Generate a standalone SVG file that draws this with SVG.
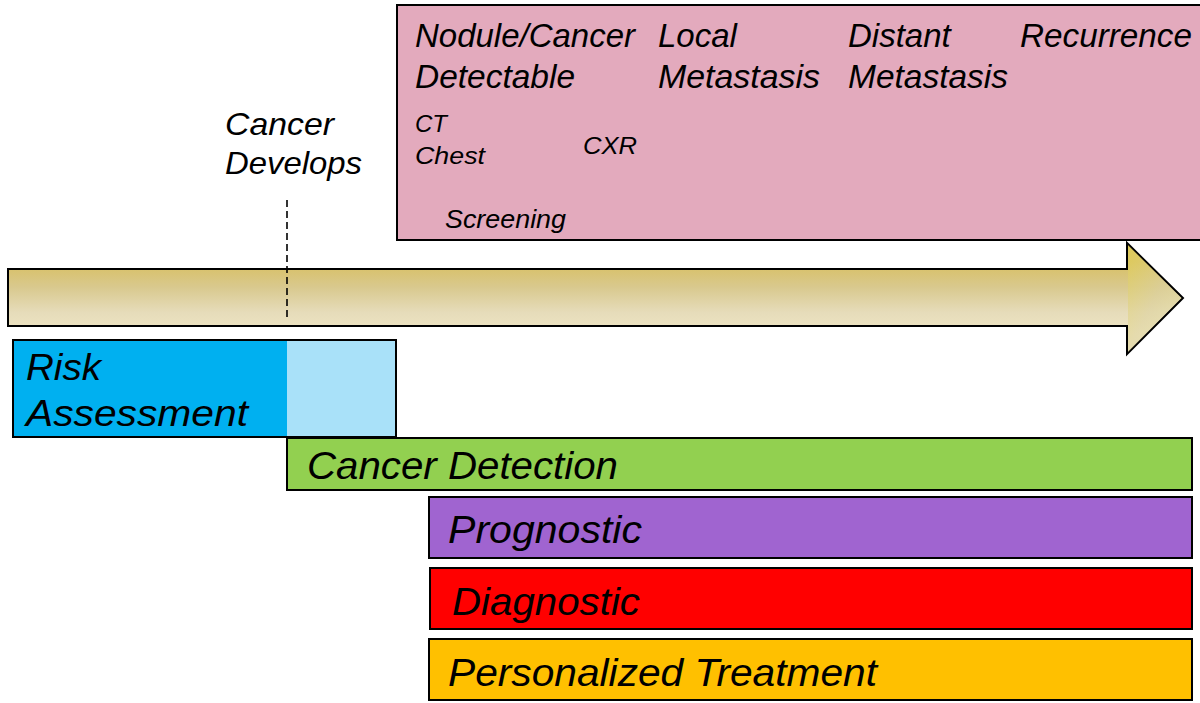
<svg xmlns="http://www.w3.org/2000/svg" width="1200" height="703" viewBox="0 0 1200 703">
  <defs>
    <linearGradient id="shaftGrad" gradientUnits="userSpaceOnUse" x1="0" y1="262" x2="0" y2="334">
      <stop offset="0" stop-color="#d8bf62"/>
      <stop offset="0.35" stop-color="#d9c98e"/>
      <stop offset="0.7" stop-color="#e6dcba"/>
      <stop offset="1" stop-color="#efe6c4"/>
    </linearGradient>
    <linearGradient id="headGrad" x1="0" y1="0" x2="1" y2="1">
      <stop offset="0" stop-color="#e3d250"/>
      <stop offset="0.5" stop-color="#ddd29c"/>
      <stop offset="1" stop-color="#ece7b0"/>
    </linearGradient>
  </defs>
  <style>
    .box { stroke: #000; stroke-width: 2; }
    .it { font-family: "Liberation Sans", Arial, sans-serif; font-style: italic; fill: #000; }
  </style>

  <rect width="1200" height="703" fill="#ffffff"/>

  <!-- Stages panel -->
  <g id="stages">
    <rect class="box" x="397" y="5" width="806" height="235" fill="#e3aabd"/>
    <text class="it" font-size="33" x="415" y="47" textLength="220" lengthAdjust="spacingAndGlyphs">Nodule/Cancer</text>
    <text class="it" font-size="33" x="415" y="88" textLength="160" lengthAdjust="spacingAndGlyphs">Detectable</text>
    <text class="it" font-size="33" x="658" y="47">Local</text>
    <text class="it" font-size="33" x="658" y="88" textLength="162" lengthAdjust="spacingAndGlyphs">Metastasis</text>
    <text class="it" font-size="33" x="848" y="47">Distant</text>
    <text class="it" font-size="33" x="848" y="88" textLength="160" lengthAdjust="spacingAndGlyphs">Metastasis</text>
    <text class="it" font-size="33" x="1020" y="47" textLength="172" lengthAdjust="spacingAndGlyphs">Recurrence</text>
    <text class="it" font-size="24" x="415" y="132">CT</text>
    <text class="it" font-size="24" x="415" y="164" textLength="70" lengthAdjust="spacingAndGlyphs">Chest</text>
    <text class="it" font-size="24" x="583" y="154" textLength="54" lengthAdjust="spacingAndGlyphs">CXR</text>
    <text class="it" font-size="25" x="445" y="228" textLength="121" lengthAdjust="spacingAndGlyphs">Screening</text>
  </g>

  <!-- Time arrow -->
  <g id="timeline">
    <path d="M8,269 H1127 V243 L1183,298 L1127,354 V326 H8 Z" fill="url(#shaftGrad)" stroke="#000" stroke-width="2" stroke-linejoin="miter"/>
    <path d="M1128,245 L1181,298 L1128,352 Z" fill="url(#headGrad)" opacity="0.55"/>
  </g>

  <!-- Cancer onset marker -->
  <g id="cancer-develops">
    <text class="it" font-size="32" x="225" y="135" textLength="109" lengthAdjust="spacingAndGlyphs">Cancer</text>
    <text class="it" font-size="32" x="225" y="174" textLength="137" lengthAdjust="spacingAndGlyphs">Develops</text>
  </g>
  <g id="connectors">
    <line x1="287" y1="200" x2="287" y2="320" stroke="#000" stroke-width="1.6" stroke-dasharray="7,4"/>
  </g>

  <!-- Phase bars -->
  <g id="risk-assessment">
    <rect x="13" y="340" width="383" height="97" fill="#00b0f0"/>
    <rect x="287" y="340" width="109" height="97" fill="#a9e1f9"/>
    <rect x="13" y="340" width="383" height="97" fill="none" stroke="#000" stroke-width="2"/>
    <text class="it" font-size="36" x="26" y="380" textLength="75" lengthAdjust="spacingAndGlyphs">Risk</text>
    <text class="it" font-size="36" x="26" y="426" textLength="222" lengthAdjust="spacingAndGlyphs">Assessment</text>
  </g>

  <g id="cancer-detection">
    <rect class="box" x="287" y="438" width="905" height="52" fill="#92d050"/>
    <text class="it" font-size="38" x="307" y="479" textLength="311" lengthAdjust="spacingAndGlyphs">Cancer Detection</text>
  </g>

  <g id="prognostic">
    <rect class="box" x="429" y="497" width="763" height="61" fill="#a064d0"/>
    <text class="it" font-size="38" x="448" y="543" textLength="194" lengthAdjust="spacingAndGlyphs">Prognostic</text>
  </g>

  <g id="diagnostic">
    <rect class="box" x="430" y="568" width="762" height="61" fill="#ff0000"/>
    <text class="it" font-size="38" x="452" y="615" textLength="188" lengthAdjust="spacingAndGlyphs">Diagnostic</text>
  </g>

  <g id="personalized-treatment">
    <rect class="box" x="429" y="639" width="763" height="61" fill="#ffc000"/>
    <text class="it" font-size="38" x="448" y="686" textLength="429" lengthAdjust="spacingAndGlyphs">Personalized Treatment</text>
  </g>
</svg>
